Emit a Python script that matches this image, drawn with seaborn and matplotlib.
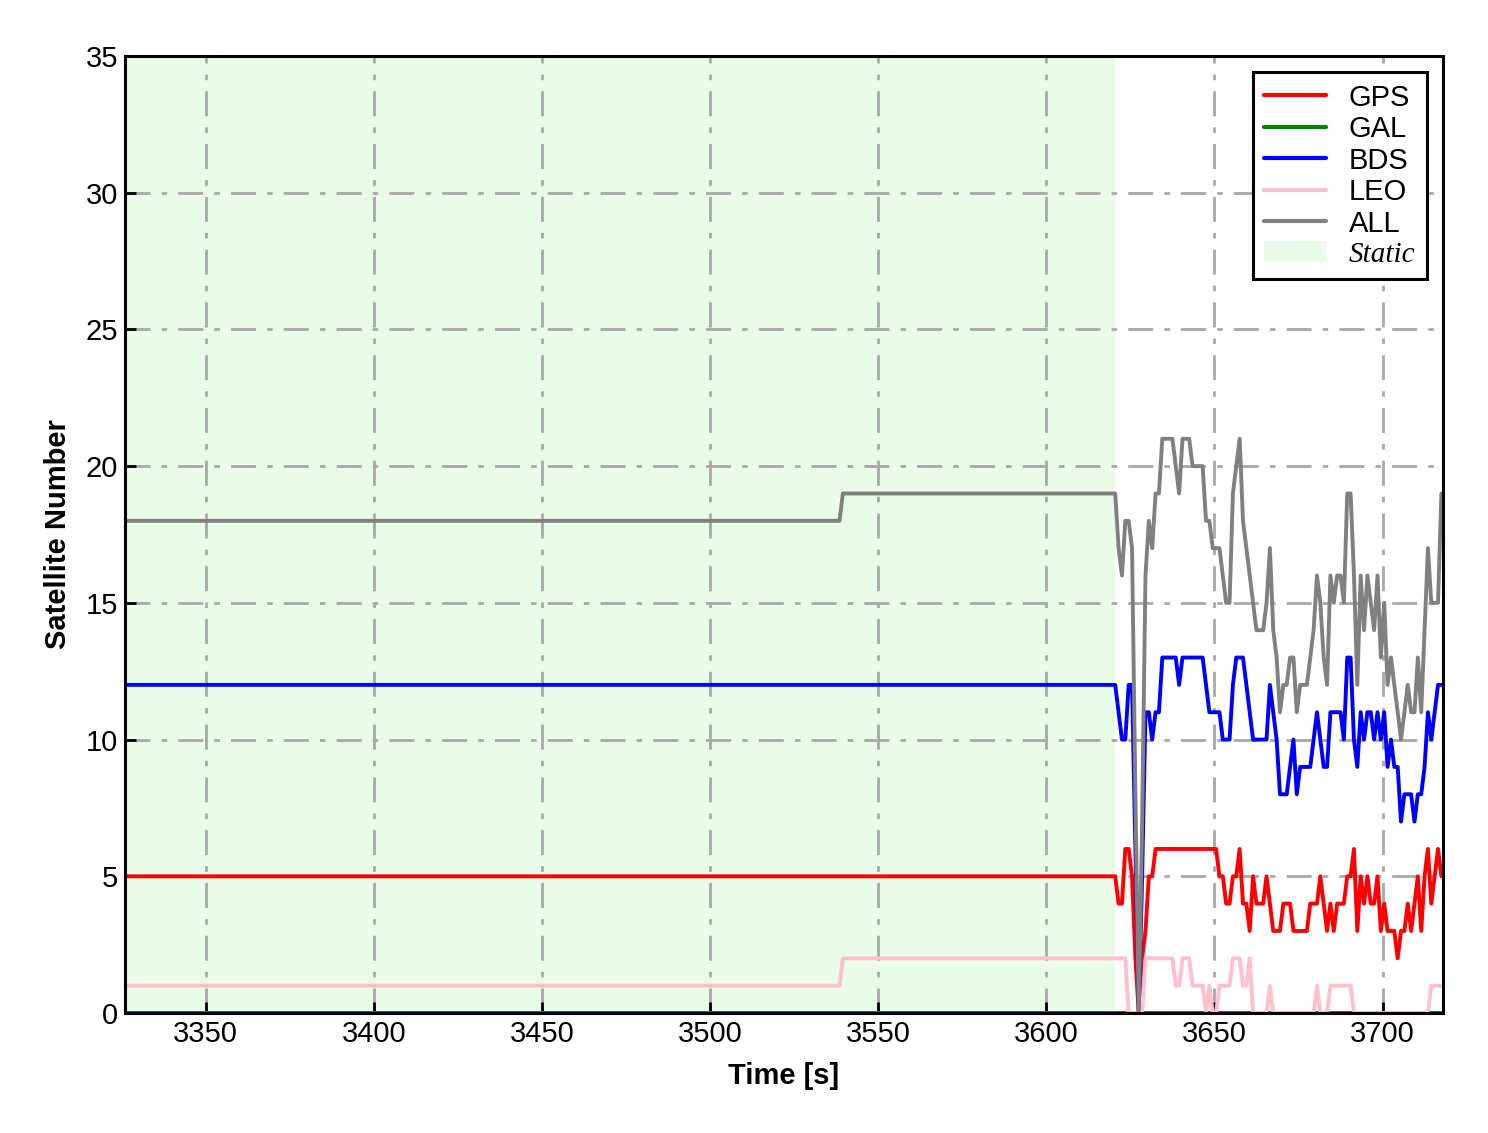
import numpy as np
import pandas as pd
import matplotlib
matplotlib.use("Agg")
import matplotlib.pyplot as plt
from matplotlib.lines import Line2D
from matplotlib.patches import Patch
import seaborn as sns

# ---------------- data ----------------
# static phase (constant counts, one step near 3539 s)
time_static = [3326.0, 3538.5, 3539.5]
gps_static = [5, 5, 5]
bds_static = [12, 12, 12]
leo_static = [1, 1, 2]
all_static = [18, 18, 19]

# dynamic phase, 1 s samples
time_dyn = np.arange(3620.5, 3718.0, 1.0)

gps_dyn = [5, 4, 4, 6, 6, 5, 2, 0, 2, 3,
           5, 5, 6, 6, 6, 6, 6, 6, 6, 6,
           6, 6, 6, 6, 6, 6, 6, 6, 6, 6,
           6, 5, 5, 4, 4, 5, 5, 6, 4, 4,
           3, 5, 4, 4, 4, 5, 4, 3, 3, 3,
           4, 4, 4, 3, 3, 3, 3, 3, 4, 4,
           4, 5, 4, 3, 4, 3, 4, 4, 4, 5,
           5, 6, 3, 5, 4, 5, 4, 4, 5, 3,
           4, 3, 3, 3, 2, 3, 3, 4, 3, 4,
           5, 3, 5, 6, 4, 5, 6, 5]

bds_dyn = [12, 11, 10, 10, 12, 12, 6, 0, 5, 11,
           11, 10, 11, 11, 13, 13, 13, 13, 13, 12,
           13, 13, 13, 13, 13, 13, 13, 12, 11, 11,
           11, 11, 10, 10, 10, 12, 13, 13, 13, 12,
           11, 10, 10, 10, 10, 10, 12, 11, 10, 8,
           8, 8, 9, 10, 8, 9, 9, 9, 9, 10,
           11, 10, 9, 9, 11, 11, 11, 11, 10, 13,
           13, 10, 9, 11, 10, 11, 11, 10, 11, 10,
           11, 9, 10, 9, 9, 7, 8, 8, 8, 7,
           8, 8, 9, 11, 10, 11, 12, 12]

leo_dyn = [2, 2, 2, 2, 0, 0, 0, 0, 0, 2,
           2, 2, 2, 2, 2, 2, 2, 2, 1, 1,
           2, 2, 2, 1, 1, 1, 1, 0, 1, 0,
           0, 1, 1, 1, 1, 2, 2, 2, 1, 1,
           2, 0, 0, 0, 0, 0, 1, 0, 0, 0,
           0, 0, 0, 0, 0, 0, 0, 0, 0, 0,
           1, 0, 0, 0, 1, 1, 1, 1, 1, 1,
           1, 0, 0, 0, 0, 0, 0, 0, 0, 0,
           0, 0, 0, 0, 0, 0, 0, 0, 0, 0,
           0, 0, 0, 0, 1, 1, 1, 1]

all_dyn = [19, 17, 16, 18, 18, 17, 8, 0, 7, 16,
           18, 17, 19, 19, 21, 21, 21, 21, 20, 19,
           21, 21, 21, 20, 20, 20, 20, 18, 18, 17,
           17, 17, 16, 15, 15, 19, 20, 21, 18, 17,
           16, 15, 14, 14, 14, 15, 17, 14, 13, 11,
           12, 12, 13, 13, 11, 12, 12, 12, 13, 14,
           16, 15, 13, 12, 16, 15, 16, 16, 15, 19,
           19, 16, 12, 16, 14, 16, 15, 14, 16, 13,
           15, 12, 13, 12, 11, 10, 11, 12, 11, 11,
           13, 11, 14, 17, 15, 15, 15, 19]

static_start, static_end = 3326.0, 3620.5

systems = ["GPS", "GAL", "BDS", "LEO", "ALL"]
colors = ["red", "green", "blue", "pink", "gray"]

# ---------------- build long table ----------------
time_all = np.concatenate([time_static, time_dyn])
series = {
    "GPS": list(gps_static) + list(gps_dyn),
    "GAL": [0] * len(time_all),
    "BDS": list(bds_static) + list(bds_dyn),
    "LEO": list(leo_static) + list(leo_dyn),
    "ALL": list(all_static) + list(all_dyn),
}
frames = []
for s in systems:
    frames.append(pd.DataFrame({"Time": time_all, "Count": series[s], "System": s}))
df = pd.concat(frames, ignore_index=True)

# ---------------- plot ----------------
sns.set_style("ticks")
plt.rcParams["font.family"] = ["Liberation Sans", "DejaVu Sans"]
for k in ["text.color", "axes.labelcolor", "xtick.color", "ytick.color",
          "xtick.labelcolor", "ytick.labelcolor"]:
    plt.rcParams[k] = "black"

fig = plt.figure(figsize=(14.88, 11.33), dpi=100)
ax = fig.add_axes([0.084, 0.1059, 0.8858, 0.8447])

ax.axvspan(static_start, static_end, color="#e8fce8", zorder=0, lw=0)

sns.lineplot(data=df, x="Time", y="Count", hue="System", hue_order=systems,
             palette=dict(zip(systems, colors)), linewidth=2.8, ax=ax,
             legend=False, estimator=None, sort=False, zorder=3)

ax.set_xlim(3326, 3718)
ax.set_ylim(0, 35)
ax.set_xticks(np.arange(3350, 3701, 50))
ax.set_yticks(np.arange(0, 36, 5))
ax.grid(True, color="#a8a8a8", linestyle=(0, (9, 4, 2, 4)), linewidth=2.0, zorder=1)
ax.set_axisbelow(True)

ax.tick_params(direction="in", length=8, width=2, labelsize=21, pad=5,
               top=False, right=False, colors="black", labelcolor="black")
for sp in ax.spines.values():
    sp.set_linewidth(2.2)
    sp.set_color("black")
    sp.set_zorder(5)

ax.set_xlabel("Time [s]", fontsize=21, fontweight="bold", labelpad=10, color="black")
ax.set_ylabel("Satellite Number", fontsize=21, fontweight="bold", labelpad=10, color="black")

handles = [Line2D([0], [0], color=c, lw=3.0) for c in colors]
handles.append(Patch(facecolor="#e8fce8", edgecolor="none"))
labels = systems + ["Static"]
leg = ax.legend(handles, labels, loc="upper right", fontsize=21, frameon=True,
                fancybox=False, edgecolor="black", framealpha=1,
                labelspacing=0.12, handlelength=2.1, handletextpad=0.8,
                borderpad=0.4, borderaxespad=0.55)
leg.get_frame().set_linewidth(2.2)
for t in leg.get_texts():
    t.set_color("black")
    if t.get_text() == "Static":
        t.set_fontfamily(["Liberation Serif", "DejaVu Serif"])
        t.set_fontstyle("italic")
leg.set_zorder(10)

fig.savefig("out.png", dpi=100)
